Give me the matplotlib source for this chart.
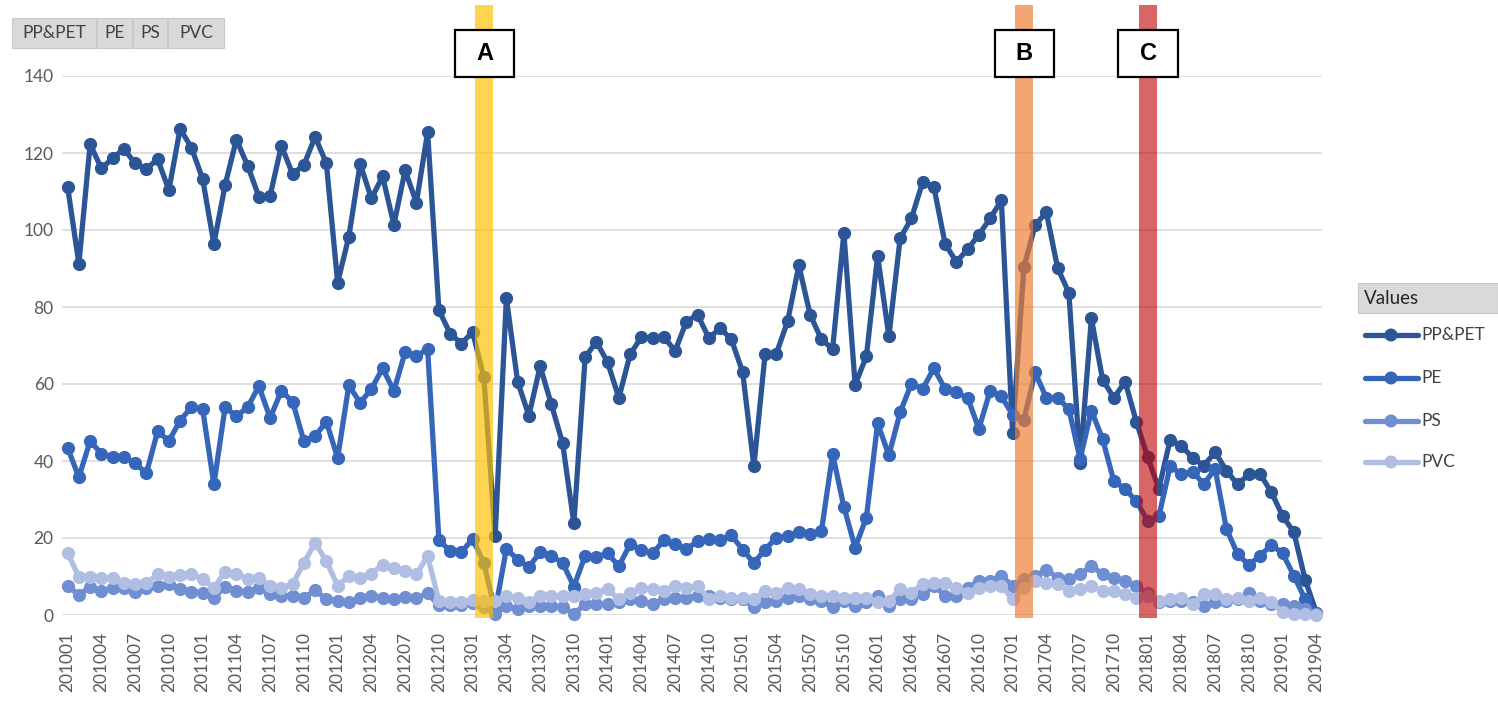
import matplotlib
matplotlib.use("Agg")
import numpy as np
import matplotlib.pyplot as plt
import matplotlib.transforms as mtransforms
from matplotlib.patches import Rectangle, Circle

plt.rcParams['font.family'] = ['Lato', 'DejaVu Sans']

# categories: monthly, 201001 .. 201904
months = [f"{y}{m:02d}" for y in range(2010, 2020) for m in range(1, 13)][:112]

pp_pet = [111.2, 91.2, 122.3, 116.0, 118.6, 121.1, 117.3, 115.9, 118.4, 110.4, 126.3, 121.4,
          113.3, 96.4, 111.7, 123.5, 116.7, 108.7, 108.9, 121.9, 114.5, 116.9, 124.2, 117.3,
          86.3, 98.3, 117.2, 108.2, 113.9, 101.4, 115.5, 107.1, 125.4, 79.2, 73.1, 70.5,
          73.5, 61.7, 20.4, 82.3, 60.6, 51.8, 64.6, 54.7, 44.6, 23.8, 66.9, 71.0,
          65.6, 56.4, 67.7, 72.2, 71.9, 72.2, 68.6, 76.2, 78.0, 71.9, 74.5, 71.6,
          63.1, 38.6, 67.9, 67.9, 76.3, 90.8, 78.0, 71.6, 69.1, 99.2, 59.8, 67.2,
          93.3, 72.4, 97.8, 103.0, 112.4, 111.2, 96.4, 91.7, 95.0, 98.8, 103.0, 107.7,
          47.4, 90.3, 101.3, 104.6, 90.1, 83.7, 39.6, 77.1, 61.1, 56.4, 60.6, 50.2,
          41.0, 32.8, 45.5, 44.0, 40.8, 38.8, 42.3, 37.5, 33.9, 36.6, 36.6, 31.9,
          25.7, 21.5, 9.2, 0.6]

pe = [43.4, 35.8, 45.2, 41.9, 41.0, 41.0, 39.4, 36.8, 47.7, 45.2, 50.5, 54.0,
      53.5, 33.9, 54.0, 51.6, 54.0, 59.4, 51.2, 58.2, 55.4, 45.2, 46.5, 50.2,
      40.8, 59.7, 55.1, 58.7, 64.1, 58.2, 68.3, 67.2, 69.1, 19.6, 16.5, 16.3,
      19.8, 13.5, 1.0, 17.2, 14.4, 12.5, 16.3, 15.4, 13.5, 7.4, 15.4, 15.1,
      16.0, 12.7, 18.4, 17.0, 16.0, 19.4, 18.4, 17.2, 19.1, 19.8, 19.4, 20.7,
      17.0, 13.5, 17.0, 20.1, 20.4, 21.5, 21.0, 21.7, 41.8, 28.1, 17.5, 25.3,
      49.8, 41.5, 52.6, 60.1, 58.7, 64.1, 58.7, 57.8, 56.4, 48.4, 58.2, 56.8,
      52.0, 50.7, 63.0, 56.4, 56.4, 53.5, 40.5, 53.1, 45.7, 34.7, 32.8, 29.5,
      24.5, 25.7, 38.6, 36.6, 37.2, 34.0, 38.0, 22.4, 15.8, 13.0, 15.4, 18.2,
      16.0, 10.2, 4.1, 0.6]

ps = [7.6, 5.2, 7.3, 6.3, 7.0, 7.1, 6.1, 7.1, 7.6, 8.0, 6.7, 6.1,
      5.8, 4.5, 7.3, 6.3, 6.1, 7.1, 5.4, 5.0, 5.0, 4.5, 6.4, 4.1,
      3.7, 3.3, 4.5, 5.0, 4.5, 4.1, 4.7, 4.5, 5.6, 2.5, 2.5, 2.5,
      3.0, 2.0, 0.3, 2.4, 1.5, 2.4, 2.4, 2.4, 2.1, 0.3, 2.8, 2.8,
      2.8, 3.3, 4.1, 3.7, 2.8, 4.1, 4.5, 4.5, 5.0, 5.0, 4.5, 4.1,
      4.1, 2.0, 3.3, 3.7, 4.5, 5.0, 4.1, 3.7, 2.0, 3.7, 2.4, 3.3,
      5.0, 2.4, 4.1, 4.1, 5.4, 7.6, 5.0, 5.0, 7.1, 8.8, 8.8, 10.1,
      7.6, 9.3, 10.1, 11.8, 9.7, 9.3, 10.6, 12.7, 10.6, 9.7, 8.8, 7.6,
      5.6, 3.3, 3.7, 3.7, 3.3, 2.4, 3.3, 3.7, 4.1, 5.8, 3.7, 2.8,
      2.8, 2.4, 1.5, 0.3]

pvc = [16.1, 9.9, 9.9, 9.7, 9.5, 8.2, 8.0, 8.2, 10.6, 9.9, 10.4, 10.7,
       9.3, 7.1, 11.2, 10.7, 9.3, 9.5, 7.6, 7.1, 8.0, 13.6, 18.7, 14.0,
       7.6, 10.1, 9.7, 10.7, 13.1, 12.1, 11.4, 10.6, 15.3, 3.7, 3.3, 3.3,
       3.9, 3.7, 3.7, 5.0, 4.5, 3.3, 5.0, 5.0, 5.0, 5.0, 5.4, 5.8,
       6.7, 4.1, 5.8, 7.1, 6.7, 6.3, 7.6, 7.1, 7.6, 4.1, 5.0, 4.5,
       4.5, 4.1, 6.3, 5.8, 7.1, 6.7, 5.4, 5.0, 5.0, 4.5, 4.5, 4.5,
       3.3, 3.7, 6.7, 5.8, 8.0, 8.4, 8.4, 7.1, 5.8, 7.1, 7.6, 7.6,
       4.1, 7.1, 8.8, 8.4, 8.0, 6.3, 6.7, 7.6, 6.3, 6.3, 5.4, 4.5,
       5.0, 3.7, 4.1, 4.5, 2.8, 5.4, 5.4, 4.1, 4.5, 3.7, 4.5, 3.3,
       0.7, 0.3, 0.3, 0.0]

series_names = ['PP&PET', 'PE', 'PS', 'PVC']
series_colors = ['#2C5596', '#3566BA', '#6F8FD2', '#AFBEE2']

events = ['A', 'B', 'C']
event_months = ['201302', '201702', '201801']
event_colors = ['#FFC000', '#ED7D31', '#C00000']
event_alpha = [0.68, 0.68, 0.6]

W, H = 1498, 701

fig = plt.figure(figsize=(W / 100, H / 100), dpi=100)
ax = fig.add_axes([62 / W, 1 - 615 / H, 1260 / W, 539 / H])

x = np.arange(len(months))
for vals, name, col in zip([pp_pet, pe, ps, pvc], series_names, series_colors):
    ax.plot(x, vals, color=col, lw=3.8, marker='o', ms=8.5,
            solid_joinstyle='round', clip_on=False, zorder=3, label=name)

ax.set_xlim(-0.5, len(months) - 0.5)
ax.set_ylim(0, 140)
ax.set_yticks(range(0, 141, 20))
ax.set_xticks(x[::3])
ax.set_xticklabels(months[::3], rotation=90)
ax.tick_params(axis='both', length=0, labelsize=12.5, labelcolor='#595959')
ax.tick_params(axis='x', pad=12)
ax.tick_params(axis='y', pad=6)
ax.grid(axis='y', color='#D9D9D9', lw=1.2)
ax.set_axisbelow(True)
for s in ax.spines.values():
    s.set_visible(False)

# event bands with labelled boxes
trans = mtransforms.blended_transform_factory(ax.transData, ax.transAxes)
for lab, m, col, a in zip(events, event_months, event_colors, event_alpha):
    i = months.index(m)
    ax.add_patch(Rectangle((i - 0.75, -0.006), 1.6, 1.138, transform=trans,
                           facecolor=col, alpha=a, lw=0, clip_on=False, zorder=5))
    ax.add_patch(Rectangle((i - 2.6, 0.998), 5.3, 0.087, transform=trans,
                           facecolor='white', edgecolor='black', lw=1.6,
                           clip_on=False, zorder=6))
    ax.text(i + 0.05, 1.041, lab, transform=trans, ha='center', va='center',
            fontsize=17, fontweight='bold', family=['Liberation Sans', 'DejaVu Sans'],
            zorder=7)

# overlay in pixel coordinates for buttons and legend
ov = fig.add_axes([0, 0, 1, 1])
ov.set_xlim(0, W)
ov.set_ylim(H, 0)
ov.set_aspect('equal')
ov.axis('off')
ov.patch.set_alpha(0)

# filter buttons, top left
btn_x = [12, 97, 133, 168, 225]
for k, name in enumerate(series_names):
    x0, x1 = btn_x[k], btn_x[k + 1] - 1
    ov.add_patch(Rectangle((x0, 18), x1 - x0, 30, facecolor='#D9D9D9',
                           edgecolor='#C9C9C9', lw=0.8))
    ov.text((x0 + x1) / 2, 33, name, ha='center', va='center',
            fontsize=12.5, color='#404040')

# legend on the right
ov.add_patch(Rectangle((1358, 283), 140, 30, facecolor='#D9D9D9',
                       edgecolor='#C9C9C9', lw=0.8))
ov.text(1364, 298, 'Values', ha='left', va='center', fontsize=13.5, color='#262626')
leg_y = [335, 378, 421, 462]
for name, col, ly in zip(series_names, series_colors, leg_y):
    ov.plot([1365, 1418], [ly, ly], color=col, lw=3.8, solid_capstyle='round')
    ov.add_patch(Circle((1391, ly), 6.5, facecolor=col, edgecolor='none', zorder=4))
    ov.text(1421, ly, name, ha='left', va='center', fontsize=12.5, color='#404040')

fig.savefig('out.png', dpi=100)
